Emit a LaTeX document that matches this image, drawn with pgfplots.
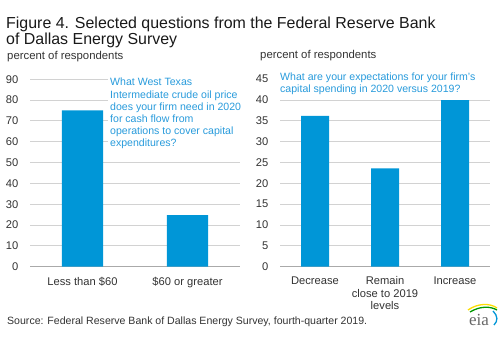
\documentclass[border=0pt]{standalone}
\usepackage{pgfplots}
\pgfplotsset{compat=1.18}
\usepackage{fontspec}
\setmainfont{Liberation Sans}
\setsansfont{Liberation Sans}
\newfontfamily\serifeia{Liberation Serif}
\definecolor{barblue}{RGB}{0,150,215}
\definecolor{txtblue}{RGB}{40,155,220}
\definecolor{labgray}{RGB}{50,50,50}
\definecolor{gridgray}{RGB}{210,210,210}
\definecolor{axgray}{RGB}{170,170,170}
\pgfplotsset{
  common/.style={
    scale only axis, width=210bp, height=187.5bp,
    ybar, ymin=0,
    enlarge x limits=false,
    axis x line*=bottom, axis y line*=left,
    y axis line style={draw=none},
    x axis line style={draw=axgray, line width=0.8bp},
    major tick length=0pt, tick style={draw=none},
    ymajorgrids, grid style={draw=gridgray, line width=0.8bp},
    tick label style={font=\fontsize{11.2}{12.3}\selectfont, text=labgray, inner sep=0pt},
    yticklabel style={anchor=east},
    yticklabel shift=11.5bp,
    xticklabel style={anchor=north, align=center},
    xticklabel shift=10bp,
    /pgf/number format/assume math mode=true,
    clip=false,
  }
}
\begin{document}
\begin{tikzpicture}
\path[use as bounding box] (0bp,0bp) rectangle (503bp,346bp);
% Left chart
\begin{axis}[common, at={(30bp,79.3bp)}, anchor=south west,
  xmin=-0.5, xmax=1.5, ymax=90, ytick={0,10,...,90},
  xtick={0,1}, xticklabels={Less than \$60, \$60 or greater},
  bar width=41bp]
\addplot[fill=barblue, draw=none] coordinates {(0,75) (1,24.8)};
\end{axis}
% Right chart
\begin{axis}[common, at={(280bp,79.3bp)}, anchor=south west,
  xmin=-0.5, xmax=2.5, ymax=45, ytick={0,5,...,45},
  xtick={0,1,2}, xticklabels={Decrease, {Remain\\close to 2019\\levels}, Increase},
  bar width=28bp]
\addplot[fill=barblue, draw=none] coordinates {(0,36.2) (1,23.6) (2,40.0)};
\end{axis}
% white boxes behind annotations
\fill[white] (108bp,195bp) rectangle (241bp,272bp);
\fill[white] (279bp,250bp) rectangle (491bp,277bp);
% Title
\begin{scope}[every node/.style={inner sep=0pt, anchor=base west}]
\node[font=\fontsize{16}{18}\selectfont, text=black!90] at (6bp,317.7bp) {Figure 4. Selected questions from the Federal Reserve Bank};
\node[font=\fontsize{16}{18}\selectfont, text=black!90] at (6bp,301.7bp) {of Dallas Energy Survey};
\node[font=\fontsize{11.4}{12}\selectfont, text=labgray] at (7bp,286bp) {percent of respondents};
\node[font=\fontsize{11.4}{12}\selectfont, text=labgray] at (260bp,287bp) {percent of respondents};
% left annotation
\node[font=\fontsize{10.6}{12}\selectfont, text=txtblue] at (110bp,260bp) {What West Texas};
\node[font=\fontsize{10.6}{12}\selectfont, text=txtblue] at (110bp,247.8bp) {Intermediate crude oil price};
\node[font=\fontsize{10.6}{12}\selectfont, text=txtblue] at (110bp,235.6bp) {does your firm need in 2020};
\node[font=\fontsize{10.6}{12}\selectfont, text=txtblue] at (110bp,223.4bp) {for cash flow from};
\node[font=\fontsize{10.6}{12}\selectfont, text=txtblue] at (110bp,211.2bp) {operations to cover capital};
\node[font=\fontsize{10.6}{12}\selectfont, text=txtblue] at (110bp,199bp) {expenditures?};
% right annotation
\node[font=\fontsize{10.6}{12}\selectfont, text=txtblue] at (280bp,265bp) {What are your expectations for your firm's};
\node[font=\fontsize{10.6}{12}\selectfont, text=txtblue] at (280bp,253bp) {capital spending in 2020 versus 2019?};
% source
\node[font=\fontsize{10.6}{12}\selectfont, text=labgray] at (7bp,22bp) {Source: Federal Reserve Bank of Dallas Energy Survey, fourth-quarter 2019.};
% eia logo
\node[font=\serifeia\fontsize{17}{18}\selectfont, text=black!60] at (469bp,21bp) {eia};
\end{scope}
\draw[yellow!80!orange, line width=1.3bp] (468bp,36bp) .. controls (478bp,43bp) and (490bp,43bp) .. (497bp,38bp);
\draw[green!60!black, line width=1.3bp] (470bp,34bp) .. controls (480bp,40bp) and (490bp,40bp) .. (497bp,36bp);
\draw[barblue, line width=1.3bp] (493bp,35bp) .. controls (498bp,30bp) and (498bp,25bp) .. (494bp,21bp);
\end{tikzpicture}
\end{document}
